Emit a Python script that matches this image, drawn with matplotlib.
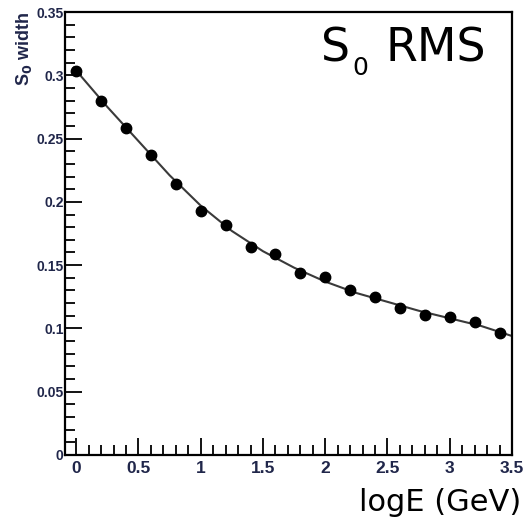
import numpy as np
import matplotlib.pyplot as plt
from matplotlib.ticker import MultipleLocator

# --- Data ---
loge = [0.0, 0.2, 0.4, 0.6, 0.8, 1.0, 1.2, 1.4, 1.6, 1.8,
        2.0, 2.2, 2.4, 2.6, 2.8, 3.0, 3.2, 3.4]
width = [0.303, 0.280, 0.258, 0.237, 0.214, 0.193, 0.182, 0.164, 0.159, 0.144,
         0.141, 0.130, 0.125, 0.116, 0.111, 0.109, 0.105, 0.096]

# fitted curve
fit_x = [-0.02, 0.25, 0.5, 0.75, 1.0, 1.25, 1.5, 1.75, 2.0, 2.25,
         2.5, 2.75, 3.0, 3.25, 3.5]
fit_y = [0.306, 0.275, 0.248, 0.221, 0.197, 0.177, 0.161, 0.148, 0.137, 0.128,
         0.121, 0.114, 0.108, 0.102, 0.094]

xticks = [0, 0.5, 1, 1.5, 2, 2.5, 3, 3.5]
xticklabels = ["0", "0.5", "1", "1.5", "2", "2.5", "3", "3.5"]
yticks = [0, 0.05, 0.1, 0.15, 0.2, 0.25, 0.3, 0.35]
yticklabels = ["0", "0.05", "0.1", "0.15", "0.2", "0.25", "0.3", "0.35"]

W, H = 531, 520
fig = plt.figure(figsize=(W / 100, H / 100), dpi=100)
fig.patch.set_facecolor("white")
ax = fig.add_axes([65 / W, 1 - 455 / H, (512 - 65) / W, (455 - 12) / H])

ax.plot(fit_x, fit_y, color="#3a3a3a", linewidth=1.5, zorder=2)
ax.plot(loge, width, "o", color="black", markersize=7.5, zorder=3)

ax.set_xlim(-0.09, 3.5)
ax.set_ylim(0, 0.35)

# --- ROOT-like axis styling ---
lab_color = "#20264a"
ax.set_xticks(xticks)
ax.set_xticklabels(xticklabels, fontsize=12.5, fontweight="bold", color=lab_color,
                   family="Liberation Sans")
ax.set_yticks(yticks)
ax.set_yticklabels(yticklabels, fontsize=10, fontweight="bold", color=lab_color,
                   family="Liberation Sans")
ax.xaxis.set_minor_locator(MultipleLocator(0.1))
ax.yaxis.set_minor_locator(MultipleLocator(0.01))
ax.tick_params(which="major", direction="in", length=12, width=1.3)
ax.tick_params(which="minor", direction="in", length=7, width=1.3)
ax.tick_params(axis="x", which="both", top=False, pad=4)
ax.tick_params(axis="y", which="both", right=False, pad=1)
for s in ax.spines.values():
    s.set_linewidth(1.6)
    s.set_color("black")

# y axis title, rotated at top-left
fig.text(24 / W, 1 - 12 / H, r"S$_\mathbf{0}$ width", rotation=90, ha="center", va="top",
         fontsize=13, fontweight="bold", color=lab_color, family="Liberation Sans")

# x axis title bottom right
fig.text(521 / W, 1 - 511 / H, "logE (GeV)", ha="right", va="baseline",
         fontsize=22, color="black", family="DejaVu Sans")

# in-plot label
fig.text(321 / W, 1 - 62 / H, "S", ha="left", va="baseline", fontsize=33, color="black")
fig.text(352 / W, 1 - 75 / H, "0", ha="left", va="baseline", fontsize=18, color="black")
fig.text(385 / W, 1 - 62 / H, "RMS", ha="left", va="baseline", fontsize=33, color="black")

fig.savefig("out.png", dpi=100)
